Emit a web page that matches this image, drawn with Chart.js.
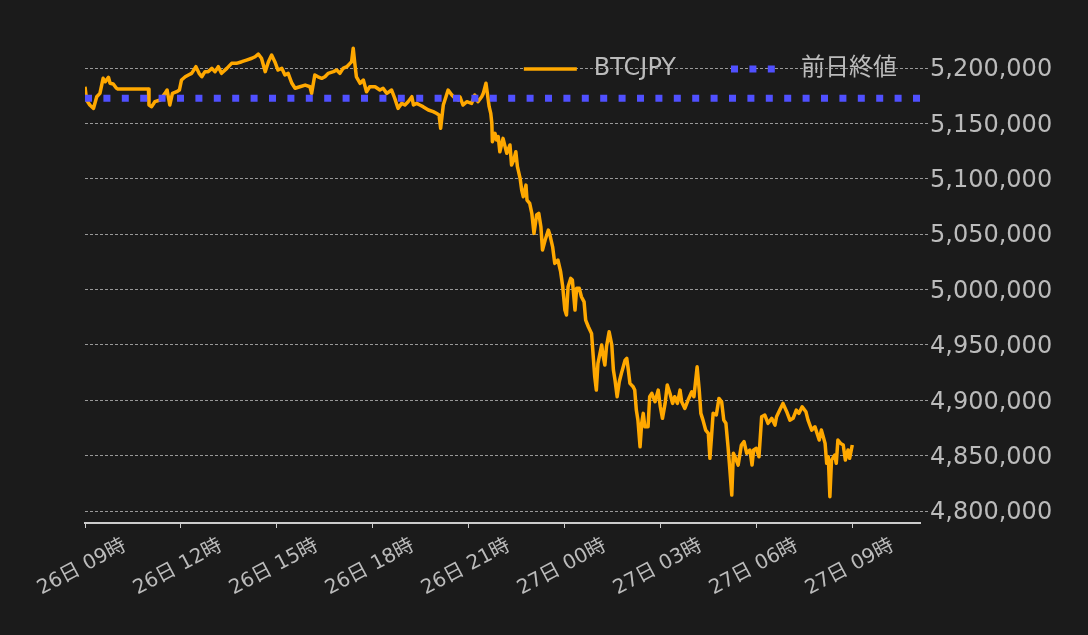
<!DOCTYPE html>
<html>
<head>
<meta charset="utf-8">
<script src="https://cdn.jsdelivr.net/npm/chart.js@4.4.1/dist/chart.umd.min.js"></script>
<style>
  html, body { margin: 0; padding: 0; background: #1b1b1b; }
  #wrap { width: 1088px; height: 635px; position: relative; }
</style>
</head>
<body>
<div id="wrap"><canvas id="chart"></canvas></div>
<script>
// x ticks every 3 hours from 26日 09時
const tickLabels = ['26日 09時', '26日 12時', '26日 15時', '26日 18時', '26日 21時',
  '27日 00時', '27日 03時', '27日 06時', '27日 09時'];
const yTicks = [4800000, 4850000, 4900000, 4950000, 5000000, 5050000, 5100000, 5150000, 5200000];

// minutes since 26日 09:00
const minutes = [
  0, 3, 9, 16, 22, 28, 34, 38, 44, 47, 53, 59, 62, 119, 120, 125, 131, 141, 150, 154,
  159, 164, 172, 177, 181, 188, 194, 200, 208, 214, 219, 225, 231, 238, 244, 250, 256, 266, 275, 284,
  294, 303, 313, 319, 325, 331, 338, 344, 350, 356, 362, 369, 375, 381, 388, 394, 403, 413, 422, 425,
  431, 437, 444, 450, 456, 466, 472, 478, 484, 491, 497, 500, 503, 506, 509, 516, 522, 528, 534, 544,
  553, 559, 566, 575, 581, 587, 594, 600, 606, 613, 616, 622, 628, 634, 644, 653, 659, 664, 667, 672,
  681, 688, 694, 700, 703, 709, 716, 725, 731, 737, 744, 747, 752, 758, 761, 763, 764, 769, 772, 775,
  778, 784, 791, 797, 800, 804, 808, 811, 816, 819, 822, 827, 829, 834, 838, 842, 847, 851, 855, 858,
  863, 869, 872, 877, 881, 887, 892, 896, 900, 903, 906, 911, 914, 919, 922, 927, 931, 936, 939, 944,
  950, 956, 959, 962, 969, 972, 975, 978, 983, 988, 991, 994, 998, 1002, 1006, 1013, 1016, 1019, 1022, 1028,
  1031, 1034, 1037, 1041, 1044, 1047, 1050, 1056, 1059, 1063, 1069, 1075, 1079, 1083, 1088, 1092, 1097, 1102, 1106, 1111,
  1116, 1119, 1125, 1131, 1138, 1142, 1148, 1152, 1155, 1159, 1164, 1169, 1172, 1175, 1178, 1184, 1189, 1194, 1198, 1202,
  1206, 1209, 1213, 1216, 1219, 1225, 1231, 1236, 1241, 1247, 1251, 1254, 1259, 1264, 1269, 1275, 1281, 1288, 1294, 1297,
  1303, 1309, 1316, 1322, 1328, 1334, 1339, 1345, 1352, 1356, 1363, 1369, 1373, 1377, 1381, 1388, 1391, 1394, 1397, 1400,
  1406, 1409, 1412, 1417, 1422, 1426, 1431, 1434, 1439
];

const btcjpy = [
  5183100, 5171100, 5166600, 5163600, 5174100, 5177100, 5190700, 5187600, 5191600, 5186200, 5185600, 5181700, 5181000, 5181000, 5166600, 5165100, 5169600, 5171100, 5177100, 5180100,
  5166600, 5177100, 5178600, 5180100, 5189200, 5192100, 5193700, 5195200, 5201200, 5195200, 5192100, 5196700, 5196700, 5199700, 5196700, 5201200, 5195200, 5199700, 5204200, 5204200,
  5205700, 5207200, 5208800, 5210200, 5212600, 5208800, 5196700, 5205700, 5211700, 5205700, 5198200, 5199700, 5193700, 5195200, 5186200, 5181700, 5183100, 5184600, 5183100, 5177100,
  5193700, 5192100, 5190700, 5192100, 5195200, 5196700, 5198200, 5195200, 5199700, 5201200, 5204200, 5205700, 5217800, 5204200, 5192100, 5186200, 5189200, 5178600, 5183100, 5183100,
  5180100, 5181700, 5177100, 5180100, 5172600, 5163600, 5168100, 5166600, 5169600, 5174100, 5166600, 5168100, 5166600, 5165100, 5162100, 5160600, 5159100, 5157600, 5145600, 5166600,
  5180100, 5175600, 5172600, 5171100, 5174100, 5166600, 5169600, 5168100, 5175600, 5169600, 5174100, 5177100, 5186200, 5165100, 5159100, 5150100, 5133400, 5141000, 5135000, 5138000,
  5124400, 5136500, 5123000, 5130500, 5112400, 5116900, 5124400, 5110900, 5100400, 5089800, 5083800, 5094300, 5080800, 5077800, 5068800, 5050700, 5067300, 5068800, 5056700, 5035700,
  5044700, 5053700, 5049200, 5038600, 5023600, 5026600, 5016100, 5002500, 4981500, 4977000, 5002500, 5010100, 5008600, 4981500, 5001100, 5001100, 4993500, 4988900, 4972400, 4966400,
  4960400, 4921200, 4909200, 4933300, 4949900, 4939300, 4931800, 4948300, 4961900, 4949900, 4927300, 4918300, 4903200, 4916700, 4924300, 4936300, 4937900, 4927300, 4915300, 4912200,
  4909200, 4891200, 4882100, 4858000, 4879200, 4888200, 4876100, 4876100, 4903200, 4906300, 4898700, 4909200, 4894200, 4883700, 4897200, 4913800, 4906300, 4897200, 4903200, 4897200,
  4909200, 4898700, 4892700, 4900200, 4907700, 4903200, 4930200, 4909200, 4888200, 4882100, 4873100, 4870100, 4847600, 4867100, 4888200, 4886700, 4901700, 4898700, 4882100, 4879200,
  4858000, 4840000, 4814400, 4852100, 4849000, 4841500, 4859600, 4862600, 4852100, 4855100, 4841500, 4855100, 4856600, 4849000, 4885100, 4886700, 4879200, 4883700, 4877600, 4885100,
  4891200, 4897200, 4889700, 4882100, 4883700, 4891200, 4888200, 4894200, 4889700, 4882100, 4873100, 4876100, 4870100, 4864100, 4873100, 4861100, 4843100, 4849000, 4812900, 4846000,
  4850500, 4843100, 4864100, 4861100, 4859600, 4846000, 4855100, 4847600, 4859600
];

const prevClose = 5172700;
const xMaxMinutes = 1566;
const yMin = 4789200;
const yMax = 5225300;

const textColor = '#bbbbbb';
const fontFamily = '"DejaVu Sans", "Noto Sans CJK JP", sans-serif';
Chart.defaults.font.family = fontFamily;
Chart.defaults.color = textColor;

// legend drawn inside the plot, top right
const insideLegend = {
  id: 'insideLegend',
  afterDraw(chart) {
    const ctx = chart.ctx;
    const area = chart.chartArea;
    const sets = chart.data.datasets;
    const y = area.top + 29;
    const boxW = 53, gap = 17, itemGap = 55;
    ctx.save();
    ctx.font = '24px ' + fontFamily;
    ctx.textBaseline = 'middle';
    let x = area.right - 23;
    for (let i = sets.length - 1; i >= 0; i--) {
      const ds = sets[i];
      const w = ctx.measureText(ds.label).width;
      x -= w;
      ctx.fillStyle = textColor;
      ctx.fillText(ds.label, x, y);
      x -= gap + boxW;
      ctx.beginPath();
      ctx.strokeStyle = ds.borderColor;
      ctx.lineWidth = ds.borderWidth;
      ctx.setLineDash(ds.borderDash || []);
      ctx.moveTo(x, y);
      ctx.lineTo(x + boxW, y);
      ctx.stroke();
      x -= itemGap;
    }
    ctx.restore();
  }
};

new Chart(document.getElementById('chart'), {
  type: 'line',
  data: {
    datasets: [
      {
        label: 'BTCJPY',
        data: minutes.map((m, i) => ({ x: m, y: btcjpy[i] })),
        borderColor: '#ffa800',
        borderWidth: 3.5,
        borderJoinStyle: 'round',
        pointRadius: 0,
        tension: 0,
        order: 1
      },
      {
        label: '前日終値',
        data: [{ x: 0, y: prevClose }, { x: xMaxMinutes, y: prevClose }],
        borderColor: '#5050ff',
        borderWidth: 7,
        borderDash: [7, 11.4],
        pointRadius: 0,
        order: 0
      }
    ]
  },
  options: {
    responsive: true,
    maintainAspectRatio: false,
    animation: false,
    devicePixelRatio: 1,
    layout: { padding: { top: 40, left: 85, right: 0, bottom: 0 } },
    plugins: {
      legend: { display: false },
      tooltip: { enabled: false }
    },
    scales: {
      x: {
        type: 'linear',
        min: 0,
        max: xMaxMinutes,
        grid: { drawOnChartArea: false, drawTicks: true, tickLength: 5, color: '#cccccc' },
        border: { color: '#cccccc', width: 2 },
        ticks: {
          stepSize: 180,
          includeBounds: false,
          autoSkip: false,
          minRotation: 28,
          maxRotation: 28,
          labelOffset: 40,
          padding: 6,
          color: textColor,
          font: { size: 20 },
          callback: (v) => tickLabels[Math.round(v / 180)] || ''
        },
        afterFit: (s) => { s.height = 112; s.paddingLeft = 0; s.paddingRight = 0; }
      },
      y: {
        position: 'right',
        min: yMin,
        max: yMax,
        grid: { color: '#999999', lineWidth: 1, tickLength: 8, tickBorderDash: [3, 2] },
        border: { display: false, dash: [3, 2] },
        ticks: {
          padding: 2,
          labelOffset: 2,
          color: textColor,
          font: { size: 24 },
          callback: (v) => v.toLocaleString('en-US')
        },
        afterBuildTicks: (s) => { s.ticks = yTicks.map((v) => ({ value: v })); },
        afterFit: (s) => { s.width = 168; s.paddingTop = 0; s.paddingBottom = 0; }
      }
    }
  },
  plugins: [insideLegend]
});
</script>
</body>
</html>
